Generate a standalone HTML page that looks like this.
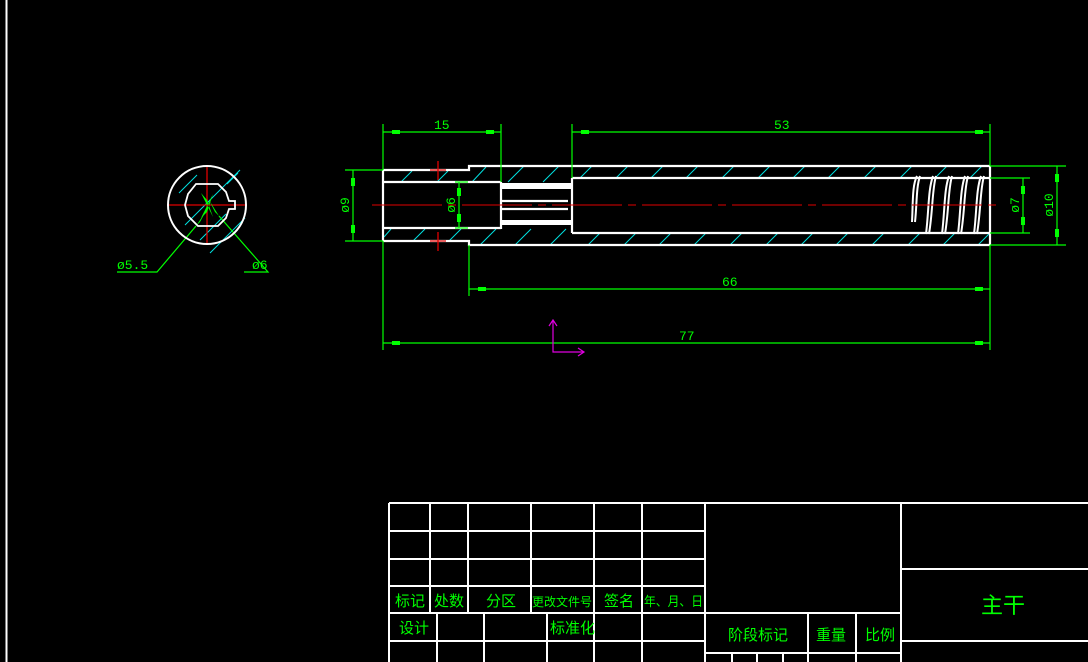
<!DOCTYPE html>
<html><head><meta charset="utf-8"><style>
html,body{margin:0;padding:0;background:#000;width:1088px;height:662px;overflow:hidden}
svg{display:block}
text{font-family:"Liberation Mono","Noto Sans CJK SC",monospace;fill:#00ff00}
</style></head><body>
<svg width="1088" height="662" viewBox="0 0 1088 662" xmlns="http://www.w3.org/2000/svg">
<rect width="1088" height="662" fill="#000"/>
<line x1="6.5" y1="0" x2="6.5" y2="662" stroke="#fff" stroke-width="2"/>

<!-- hatching -->
<g stroke="#00e0e0" stroke-width="1">
<path d="M401 182 L412 171 M437 182 L448 171 M472 182 L486 167 M508 182 L524 166 M543 182 L559 166 M580 178 L592 166 M616 178 L628 166 M651 178 L663 166 M686 178 L698 166 M722 178 L734 166 M758 178 L770 166 M793 178 L805 166 M828 178 L840 166 M864 178 L876 166 M900 178 L912 166 M935 178 L947 166 M970 178 L982 166"/>
<path d="M384 237 L391 229 M413 241 L425 229 M449 241 L461 229 M480 245 L496 229 M515 245 L531 229 M550 245 L566 229 M588 245 L600 233 M624 245 L636 233 M659 245 L671 233 M694 245 L706 233 M730 245 L742 233 M766 245 L778 233 M801 245 L813 233 M836 245 L848 233 M872 245 L884 233 M908 245 L920 233 M943 245 L955 233 M978 245 L990 233"/>
<path d="M179 193 L197 175 M185 225 L240 170 M200 240 L226 214 M227 184 L238 173 M210 253 L245 218"/>
</g>

<!-- part outline -->
<g stroke="#fff" stroke-width="2.2" fill="none">
<path d="M383 170 H469 V166 H990"/>
<path d="M383 241 H469 V245 H990"/>
<path d="M383 170 V241"/>
<path d="M383 182 H501 M383 228 H501"/>
<path d="M501 182 V229"/>
<path d="M572 178 H990 M572 233 H990 M572 178 V233"/>
<path d="M990 166 V245"/>
<path d="M501 201 H568 M501 209 H568"/>
</g>
<rect x="501" y="183" width="71" height="6" fill="#fff"/>
<rect x="501" y="220" width="71" height="5" fill="#fff"/>
<!-- threads -->
<g stroke="#fff" stroke-width="2" fill="none">
<path d="M917 176 C912 185 913 205 912 222 M933 176 C928 190 929 210 926 234 M949 176 C944 190 945 210 942 234 M965 176 C960 190 961 210 958 234 M981 176 C976 190 977 210 974 234"/>
<path d="M920 176 C916 188 917 205 915 222 M936 176 C932 190 933 210 929 234 M952 176 C948 190 949 210 945 234 M968 176 C964 190 965 210 961 234 M984 176 C980 190 981 210 977 234"/>
</g>

<!-- centerline -->
<line x1="372" y1="205" x2="1000" y2="205" stroke="#e00000" stroke-width="1" stroke-dasharray="70,6,8,6"/>
<g stroke="#e00000" stroke-width="1.3">
<path d="M430 170 H446 M438 161 V180 M430 241 H446 M438 232 V251"/>
<path d="M167 205 H247 M207 165 V245"/>
</g>

<!-- dimensions -->
<g stroke="#00ff00" stroke-width="1.2" fill="none">
<path d="M383 124 V170 M501 124 V182 M383 132 H501"/>
<path d="M572 124 V178 M990 124 V166 M572 132 H990"/>
<path d="M345 170 H383 M345 241 H383 M353 170 V241"/>
<path d="M455 182 H468 M455 228 H468 M459 182 V228"/>
<path d="M990 178 H1030 M990 233 H1030 M1023 178 V233"/>
<path d="M990 166 H1066 M990 245 H1066 M1057 166 V245"/>
<path d="M469 245 V296 M469 289 H990 M990 245 V350"/>
<path d="M383 241 V350 M383 343 H990"/>
<path d="M117 272 H157 L196 226 M244 272 H268 L219 216"/>
</g>
<g fill="#00ff00">
<rect x="392" y="130" width="8" height="4"/><rect x="486" y="130" width="8" height="4"/>
<rect x="581" y="130" width="8" height="4"/><rect x="975" y="130" width="8" height="4"/>
<rect x="351" y="178" width="4" height="8"/><rect x="351" y="225" width="4" height="8"/>
<rect x="457" y="188" width="4" height="8"/><rect x="457" y="214" width="4" height="8"/>
<rect x="1021" y="186" width="4" height="8"/><rect x="1021" y="217" width="4" height="8"/>
<rect x="1055" y="174" width="4" height="8"/><rect x="1055" y="229" width="4" height="8"/>
<rect x="478" y="287" width="8" height="4"/><rect x="975" y="287" width="8" height="4"/>
<rect x="392" y="341" width="8" height="4"/><rect x="975" y="341" width="8" height="4"/>
<path d="M196 226 L206 211 L200 222 Z M219 216 L209 200 L215 212 Z"/>
<path d="M201 218 L213 194 L207 212Z M201 193 L213 217 L207 200Z"/>
</g>
<g font-size="13">
<text x="434" y="129">15</text>
<text x="774" y="129">53</text>
<text x="722" y="286">66</text>
<text x="679" y="340">77</text>
<text x="117" y="269">ø5.5</text>
<text x="252" y="269">ø6</text>
<text transform="translate(349,205) rotate(-90)" text-anchor="middle">ø9</text>
<text transform="translate(455,205) rotate(-90)" text-anchor="middle">ø6</text>
<text transform="translate(1019,205) rotate(-90)" text-anchor="middle">ø7</text>
<text transform="translate(1053,205) rotate(-90)" text-anchor="middle">ø10</text>
</g>

<!-- circle view -->
<circle cx="207" cy="205" r="39" fill="none" stroke="#fff" stroke-width="2"/>
<path d="M196 184 L218 184 L226 192 L229 201 L235 201 L235 209 L229 209 L226 218 L218 226 L198 226 L188 216 L185 205 L188 194 Z" fill="none" stroke="#fff" stroke-width="1.8"/>

<!-- UCS -->
<g stroke="#e000e0" stroke-width="1.2" fill="none">
<path d="M553 320 V352 H584 M549 326 L553 320 L557 326 M578 348 L584 352 L578 356"/>
</g>

<!-- title block -->
<g stroke="#fff" stroke-width="2" fill="none">
<path d="M389 503 H1088 M389 503 V662"/>
<path d="M389 531 H705 M389 559 H705 M389 586 H705 M389 613 H901 M389 641 H705"/>
<path d="M430 503 V613 M468 503 V613 M531 503 V613 M594 503 V662 M642 503 V662 M705 503 V662"/>
<path d="M437 613 V662 M484 613 V662 M547 613 V662"/>
<path d="M901 503 V662 M901 569 H1088 M901 641 H1088"/>
<path d="M705 653 H901 M808 613 V662 M856 613 V662 M732 653 V662 M757 653 V662 M783 653 V662"/>
</g>
<g font-size="15" font-family="'Liberation Sans','Noto Sans CJK SC',sans-serif">
<text x="395" y="606">标记</text>
<text x="434" y="606">处数</text>
<text x="486" y="606">分区</text>
<text x="532" y="606" font-size="12" textLength="60" lengthAdjust="spacingAndGlyphs">更改文件号</text>
<text x="604" y="606">签名</text>
<text x="644" y="606" font-size="13" textLength="59" lengthAdjust="spacingAndGlyphs">年、月、日</text>
<text x="399" y="633">设计</text>
<text x="550" y="633">标准化</text>
<text x="728" y="640">阶段标记</text>
<text x="816" y="640">重量</text>
<text x="865" y="640">比例</text>
<text x="981" y="613" font-size="22">主干</text>
</g>
</svg>
</body></html>
